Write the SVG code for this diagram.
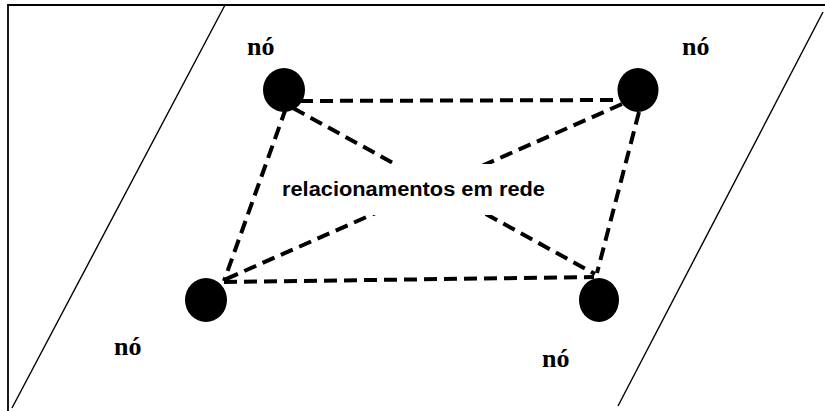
<svg xmlns="http://www.w3.org/2000/svg" width="825" height="411" viewBox="0 0 825 411">
  <style>
    .frame { stroke: #000; stroke-width: 1.8; fill: none; }
    .plane { stroke: #000; stroke-width: 1.4; fill: none; }
    .link { stroke: #000; stroke-width: 4; stroke-dasharray: 13 7; fill: none; }
    .dot { fill: #000; }
    .tag { font-family: "Liberation Serif", "Times New Roman", serif; font-weight: bold; font-size: 26px; fill: #000; }
    .caption { font-family: "Liberation Sans", Arial, sans-serif; font-weight: bold; font-size: 20px; fill: #000; }
  </style>
  <rect width="825" height="411" fill="#fff"/>

  <!-- outer frame (top and left edges) -->
  <path class="frame" d="M8 411 V5 H825"/>

  <!-- slanted plane edges -->
  <g id="plane">
    <line class="plane" x1="225" y1="5" x2="12" y2="408"/>
    <line class="plane" x1="823" y1="12" x2="618" y2="406"/>
  </g>

  <!-- dashed relations between nodes -->
  <g id="connectors">
    <line class="link" x1="300" y1="101" x2="618" y2="100"/>
    <line class="link" x1="224" y1="282" x2="594" y2="277"/>
    <line class="link" x1="286" y1="108" x2="224" y2="281"/>
    <line class="link" x1="293" y1="108" x2="595" y2="274"/>
    <line class="link" x1="622" y1="104" x2="224" y2="280"/>
    <line class="link" x1="639" y1="112" x2="597" y2="273"/>
  </g>

  <!-- label with white backing -->
  <g id="label">
    <rect x="268" y="164" width="288" height="51" fill="#fff"/>
    <text class="caption" x="282" y="196" textLength="263" lengthAdjust="spacingAndGlyphs">relacionamentos em rede</text>
  </g>

  <g id="node-top-left">
    <ellipse class="dot" cx="284" cy="90" rx="21" ry="22"/>
    <text class="tag" x="247" y="55">nó</text>
  </g>
  <g id="node-top-right">
    <ellipse class="dot" cx="638" cy="90" rx="20.5" ry="22"/>
    <text class="tag" x="682" y="55">nó</text>
  </g>
  <g id="node-bottom-left">
    <ellipse class="dot" cx="206" cy="300" rx="21" ry="22"/>
    <text class="tag" x="114" y="355">nó</text>
  </g>
  <g id="node-bottom-right">
    <ellipse class="dot" cx="599" cy="300" rx="20" ry="22"/>
    <text class="tag" x="542" y="367">nó</text>
  </g>
</svg>
